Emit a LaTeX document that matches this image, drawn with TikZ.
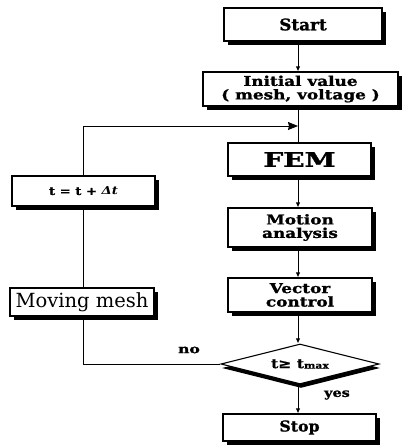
\documentclass[tikz,border=0pt]{standalone}
\usepackage{fontspec}
\usepackage{graphicx}
\setmainfont{DejaVu Serif}[BoldFeatures={FakeBold=1.2}]
\usetikzlibrary{shapes.geometric,shadows,arrows.meta}
\newcommand\hstretch[2]{\scalebox{#1}[1]{#2}}
\tikzset{
  box/.style={draw, line width=1.1pt, fill=white, inner sep=0pt, align=center,
    drop shadow={shadow xshift=3.5pt, shadow yshift=-3.5pt, fill=black, opacity=1}},
  bold/.style={font=\bfseries\fontsize{#1}{#1}\selectfont},
  arr/.style={line width=0.9pt, -{Latex[length=5pt,width=4.5pt]}},
  bigarr/.style={line width=0.9pt, -{Stealth[length=10pt,width=8pt,inset=1pt]}},
  plain/.style={line width=0.9pt},
  lbl/.style={inner sep=0pt, font=\bfseries\fontsize{12}{12}\selectfont}
}
\begin{document}
\begin{tikzpicture}[x=1pt,y=-1pt]
\useasboundingbox (0,0) rectangle (404,445);
\coordinate (axis) at (298,0);
\coordinate (join) at (298,126);
\node[box, bold=16, minimum width=158pt, minimum height=33pt] (start) at (303,24.5) {\hstretch{1.05}{Start}};
\node[box, bold=13.5, minimum width=195pt, minimum height=34pt] (init) at (300.5,89)
  {\hstretch{1.25}{Initial value}\\[0pt]\hstretch{1.25}{( mesh, voltage )}};
\node[box, bold=20, minimum width=143pt, minimum height=33pt] (fem) at (299.5,159.5) {\hstretch{1.4}{FEM}};
\node[box, bold=13.5, minimum width=144pt, minimum height=39pt] (motion) at (300,227.5)
  {\hstretch{1.25}{Motion}\\[0pt]\hstretch{1.25}{analysis}};
\node[box, bold=13.5, minimum width=144pt, minimum height=34pt] (vector) at (300,295)
  {\hstretch{1.25}{Vector}\\[0pt]\hstretch{1.25}{control}};
\node[diamond, draw, line width=1.1pt, fill=white, inner sep=0pt, aspect=4,
  minimum width=158pt, minimum height=40pt,
  drop shadow={shadow xshift=1pt, shadow yshift=-4pt, fill=black, opacity=1},
  bold=13] (dec) at (300,364) {\hstretch{1.2}{t≥ t\raisebox{-0.5pt}{\fontsize{9}{9}\selectfont max}}};
\node[box, bold=15, minimum width=153pt, minimum height=27pt] (stop) at (299.5,427.5) {\hstretch{1.05}{Stop}};
\node[box, bold=11, minimum width=143pt, minimum height=30pt] (tb) at (83.5,191)
  {\hstretch{1.2}{t = t + \textit{Δt}}};
\node[box, font=\fontsize{19.5}{19.5}\selectfont, minimum width=144pt, minimum height=28pt] (mm) at (82,302) {Moving mesh};
\node[lbl] (no) at (189,350) {\hstretch{1.3}{no}};
\node[lbl] (yes) at (337,395) {\hstretch{1.2}{yes}};
\draw[arr] (start.south -| axis) -- (init.north -| axis);
\draw[plain] (init.south -| axis) -- (fem.north -| axis);
\draw[arr] (fem.south -| axis) -- (motion.north -| axis);
\draw[arr] (motion.south -| axis) -- (vector.north -| axis);
\draw[arr] (vector.south -| axis) -- (dec.north -| axis);
\draw[arr] (dec.south -| axis) -- (stop.north -| axis);
\draw[plain] (dec.west) -- (dec.west -| tb) -- (mm.south -| tb);
\draw[plain] (mm.north -| tb) -- (tb.south);
\draw[bigarr] (tb.north) |- (join);
\end{tikzpicture}
\end{document}
